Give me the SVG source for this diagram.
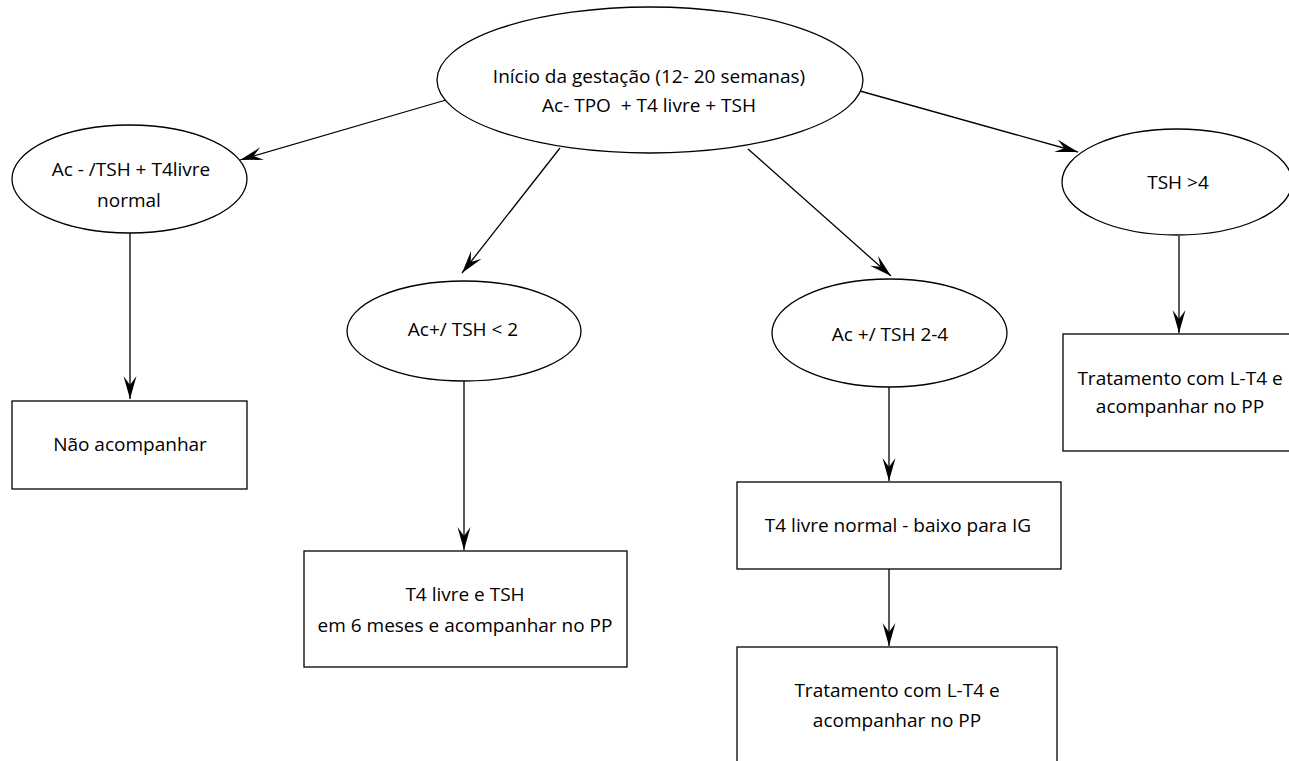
<svg xmlns="http://www.w3.org/2000/svg" width="1289" height="761" viewBox="0 0 1289 761">
<style>
.n{fill:#fff;stroke:#000;stroke-width:1.3}
.t{font-family:"Open Sans","Noto Sans","DejaVu Sans",sans-serif;font-size:19px;fill:#000;text-anchor:middle;white-space:pre}
.c{stroke:#000;stroke-width:1.3;fill:none;marker-end:url(#ah)}
</style>
<defs>
<marker id="ah" markerUnits="userSpaceOnUse" markerWidth="24" markerHeight="14" viewBox="0 0 24 14" refX="23" refY="7" orient="auto">
<path d="M0,0.5 L23,7 L0,13.5 L9,7 z" fill="#000"/>
</marker>
</defs>
<rect width="1289" height="761" fill="#fff"/>
<g id="connectors">
<line class="c" x1="446" y1="100" x2="240" y2="160"/>
<line class="c" x1="860" y1="91" x2="1078" y2="152"/>
<line class="c" x1="560" y1="148" x2="462" y2="273"/>
<line class="c" x1="748" y1="149" x2="891" y2="276"/>
<line class="c" x1="130" y1="233" x2="130" y2="399"/>
<line class="c" x1="464" y1="381" x2="464" y2="550"/>
<line class="c" x1="889" y1="387" x2="889" y2="481"/>
<line class="c" x1="889" y1="569" x2="889" y2="646"/>
<line class="c" x1="1179" y1="236" x2="1179" y2="333"/>
</g>
<g id="n-inicio">
<ellipse class="n" cx="650" cy="80" rx="213" ry="73"/>
<text class="t" x="649" y="83">Início da gestação (12- 20 semanas)</text>
<text class="t" x="649" y="112" xml:space="preserve">Ac- TPO  + T4 livre + TSH</text>
</g>
<g id="n-acneg">
<ellipse class="n" cx="129.5" cy="179" rx="117.5" ry="54"/>
<text class="t" x="131" y="176">Ac - /TSH + T4livre</text>
<text class="t" x="129" y="207">normal</text>
</g>
<g id="n-tsh4">
<ellipse class="n" cx="1177" cy="182" rx="115" ry="53"/>
<text class="t" x="1178" y="189">TSH &gt;4</text>
</g>
<g id="n-ac2">
<ellipse class="n" cx="464" cy="331" rx="117" ry="50"/>
<text class="t" x="463" y="336">Ac+/ TSH &lt; 2</text>
</g>
<g id="n-ac24">
<ellipse class="n" cx="889.5" cy="333" rx="117.5" ry="54"/>
<text class="t" x="890" y="341">Ac +/ TSH 2-4</text>
</g>
<g id="n-nao">
<rect class="n" x="12" y="401" width="235" height="88"/>
<text class="t" x="130" y="451">Não acompanhar</text>
</g>
<g id="n-t4tsh">
<rect class="n" x="304" y="551" width="323" height="116"/>
<text class="t" x="465" y="601">T4 livre e TSH</text>
<text class="t" x="465" y="632">em 6 meses e acompanhar no PP</text>
</g>
<g id="n-t4normal">
<rect class="n" x="737" y="482" width="324" height="87"/>
<text class="t" x="898" y="532">T4 livre normal - baixo para IG</text>
</g>
<g id="n-trat1">
<rect class="n" x="737" y="647" width="320" height="130"/>
<text class="t" x="897" y="697">Tratamento com L-T4 e</text>
<text class="t" x="897" y="727">acompanhar no PP</text>
</g>
<g id="n-trat2">
<rect class="n" x="1063" y="334" width="240" height="117"/>
<text class="t" x="1180" y="385">Tratamento com L-T4 e</text>
<text class="t" x="1180" y="413">acompanhar no PP</text>
</g>
</svg>
